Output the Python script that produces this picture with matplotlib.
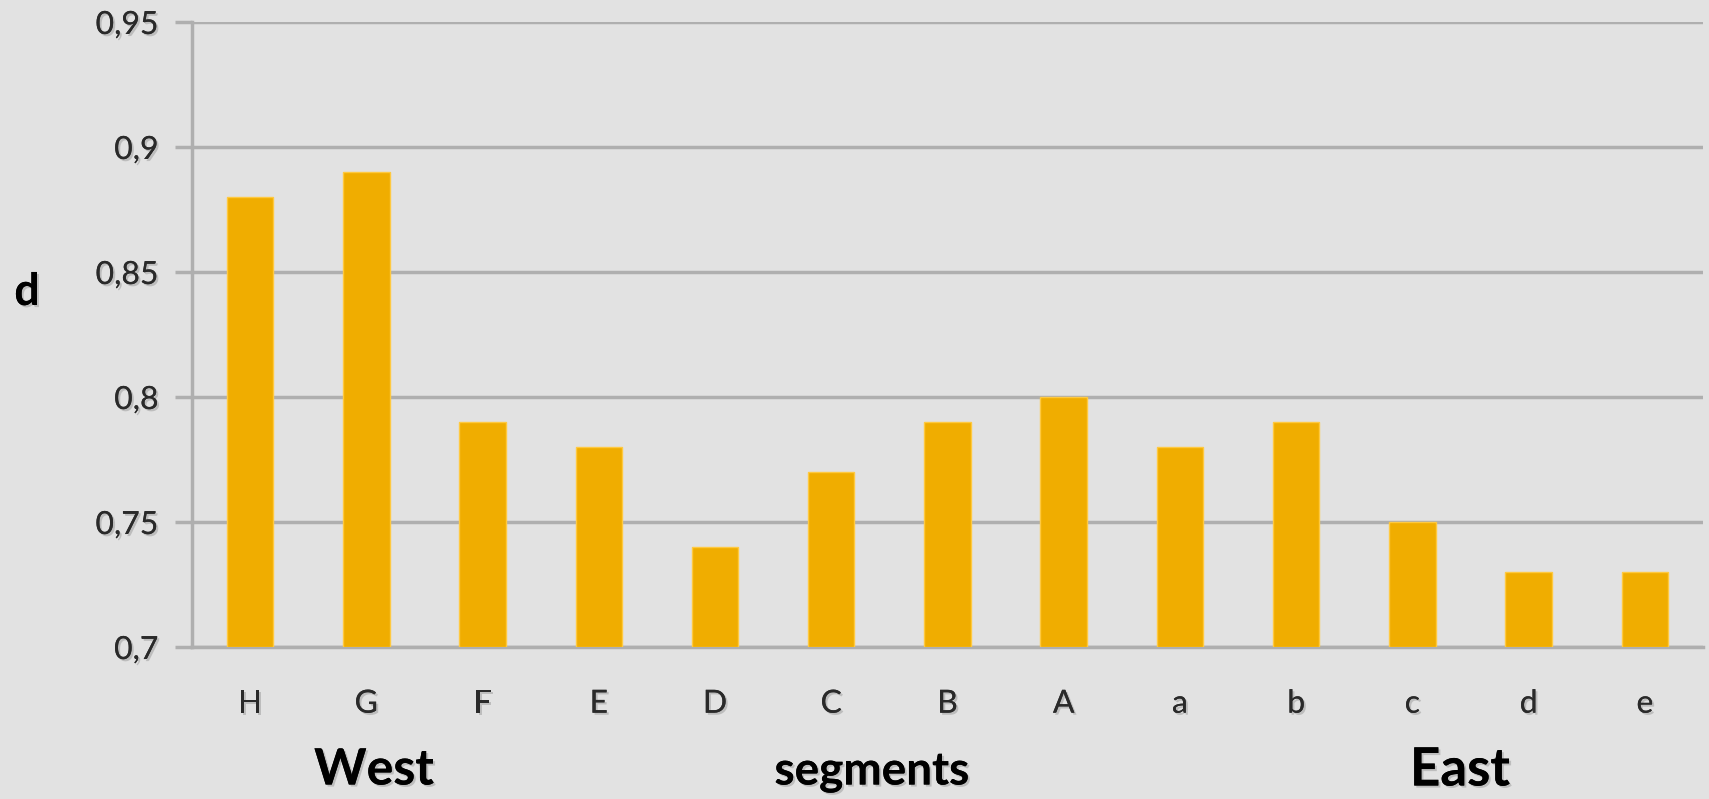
import matplotlib
matplotlib.use("Agg")
import matplotlib.pyplot as plt
import matplotlib.patheffects as pe
from matplotlib.ticker import FixedLocator, FuncFormatter

BG    = "#E2E2E2"
BAR   = "#F0AD00"
EDGE  = "#FFC940"
GRID  = "#AFAFAF"
TICK  = "#2A2A2A"

segments = ["H", "G", "F", "E", "D", "C", "B", "A", "a", "b", "c", "d", "e"]
d_values = [0.88, 0.89, 0.79, 0.78, 0.74, 0.77, 0.79, 0.80, 0.78, 0.79, 0.75, 0.73, 0.73]
y_ticks  = [0.70, 0.75, 0.80, 0.85, 0.90, 0.95]

plt.rcParams["font.family"] = ["Lato", "DejaVu Sans"]

# faint drop shadow under all the text, like the slide theme
shadow = [pe.withSimplePatchShadow(offset=(1.5, -1.5), shadow_rgbFace="#999999", alpha=0.5),
          pe.Normal()]

fig = plt.figure(figsize=(17.09, 7.99), dpi=100, facecolor=BG)
ax = fig.add_axes([0.1123, 0.1902, 0.8842, 0.7823])
ax.set_facecolor(BG)

x = range(len(segments))
ax.bar(x, [v - 0.7 for v in d_values], bottom=0.7, width=0.4, color=BAR,
       edgecolor=EDGE, linewidth=1.0, zorder=3)

ax.set_xlim(-0.5, len(segments) - 0.5)
ax.set_ylim(0.7, 0.95)
ax.yaxis.set_major_locator(FixedLocator(y_ticks))
ax.yaxis.set_major_formatter(FuncFormatter(lambda v, _: f"{v:g}".replace(".", ",")))
ax.set_xticks(list(x))
ax.set_xticklabels(segments)

ax.grid(axis="y", color=GRID, lw=2.5, zorder=1)
for side in ("top", "right"):
    ax.spines[side].set_visible(False)
for side in ("left", "bottom"):
    ax.spines[side].set_color(GRID)
    ax.spines[side].set_linewidth(2.5)
ax.tick_params(axis="y", length=12, width=2.5, color=GRID, labelsize=23,
               labelcolor=TICK, pad=12)
ax.tick_params(axis="x", length=0, labelsize=23, labelcolor=TICK, pad=30)
for t in ax.get_xticklabels() + ax.get_yticklabels():
    t.set_path_effects(shadow)

# group labels under the category axis
for xp, yp, s, fs in [(374, 770, "West", 36), (872, 772, "segments", 33),
                      (1460, 770, "East", 38), (27, 292, "d", 32)]:
    fig.text(xp / 1709, 1 - yp / 799, s, fontsize=fs, fontweight="bold",
             ha="center", va="center", color="black", path_effects=shadow)

fig.savefig("out.png", facecolor=BG)
